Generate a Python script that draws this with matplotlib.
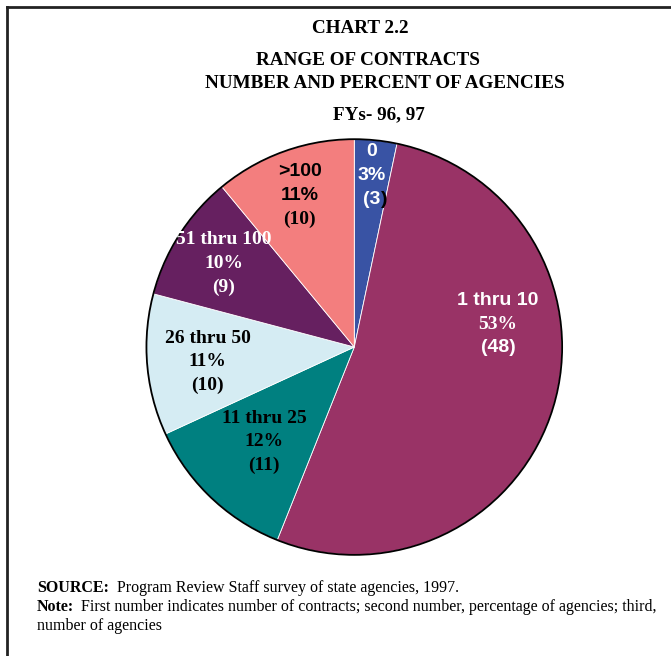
import numpy as np
import matplotlib
matplotlib.use('Agg')
import matplotlib.pyplot as plt
from matplotlib.lines import Line2D

# data
categories = ['0', '1 thru 10', '11 thru 25', '26 thru 50', '51 thru 100', '>100']
agencies = [3, 48, 11, 10, 9, 10]
percents = ['3%', '53%', '12%', '11%', '10%', '11%']
colors = ['#3953A4', '#993366', '#008080', '#D5ECF3', '#662060', '#F37E7E']

serif = 'Liberation Serif'
sans = 'Liberation Sans'

# font of each label line, and text colour per slice
line_fonts = [
    [sans, sans, sans],
    [sans, serif, sans],
    [serif, serif, serif],
    [serif, serif, serif],
    [serif, serif, serif],
    [sans, sans, serif],
]
text_colors = ['white', 'white', 'black', 'black', 'white', 'black']
label_r = [0.83, 0.70, 0.63, 0.71, 0.745, 0.775]
angle_shift = [0, 25.8, 0, 0.8, 0, 0]

fig = plt.figure(figsize=(6.71, 6.56), dpi=100)

# frame lines (left and top only)
fig.add_artist(Line2D([0.011, 0.011], [0.0, 0.989], color='#222222', lw=2))
fig.add_artist(Line2D([0.011, 1.0], [0.989, 0.989], color='#222222', lw=2))

ax = fig.add_axes([0.215, 0.151, 0.626, 0.640])
wedges, _ = ax.pie(agencies, colors=colors, startangle=90, counterclock=False,
                   radius=1, wedgeprops=dict(linewidth=0.6, edgecolor='white'))
ax.add_patch(plt.Circle((0, 0), 1, fill=False, color='black', lw=1.3))
ax.set_xlim(-1.01, 1.01)
ax.set_ylim(-1.01, 1.01)
ax.set_aspect('equal')
ax.axis('off')

fs = 14
for i, w in enumerate(wedges):
    mid = (w.theta1 + w.theta2) / 2 + angle_shift[i]
    x = label_r[i] * np.cos(np.radians(mid))
    y = label_r[i] * np.sin(np.radians(mid))
    lines = [categories[i], percents[i], '(%d)' % agencies[i]]
    dy = 0.114
    for k, txt in enumerate(lines):
        yy = y + (1 - k) * dy
        if i == 0 and k == 2:
            t = ax.text(x, yy, '(3', ha='center', va='center', color='white',
                        fontsize=fs, fontweight='bold', family=sans)
            ax.annotate(')', xy=(1, 0), xycoords=t, ha='left', va='bottom',
                        color='black', fontsize=fs, fontweight='bold', family=sans)
            continue
        ax.text(x, yy, txt, ha='center', va='center', color=text_colors[i],
                fontsize=fs, fontweight='bold', family=line_fonts[i][k])

# titles
tfs = 13.8
fig.text(0.537, 0.957, 'CHART 2.2', ha='center', va='center', fontsize=tfs,
         fontweight='bold', family=serif)
fig.text(0.382, 0.908, 'RANGE OF CONTRACTS', ha='left', va='center', fontsize=tfs,
         fontweight='bold', family=serif)
fig.text(0.305, 0.872, 'NUMBER AND PERCENT OF AGENCIES', ha='left', va='center',
         fontsize=tfs, fontweight='bold', family=serif)
fig.text(0.565, 0.825, 'FYs- 96, 97', ha='center', va='center', fontsize=tfs,
         fontweight='bold', family=serif)

# footnotes
nfs = 11.5
fig.text(0.055, 0.104, 'SOURCE:', ha='left', va='center', fontsize=nfs,
         fontweight='bold', family=serif)
fig.text(0.174, 0.104, 'Program Review Staff survey of state agencies, 1997.',
         ha='left', va='center', fontsize=nfs, family=serif)
fig.text(0.055, 0.075, 'Note:', ha='left', va='center', fontsize=nfs,
         fontweight='bold', family=serif)
fig.text(0.121, 0.075, 'First number indicates number of contracts; second number, '
         'percentage of agencies; third,', ha='left', va='center', fontsize=nfs,
         family=serif)
fig.text(0.055, 0.046, 'number of agencies', ha='left', va='center', fontsize=nfs,
         family=serif)

fig.savefig('out.png', dpi=100, facecolor='white')
